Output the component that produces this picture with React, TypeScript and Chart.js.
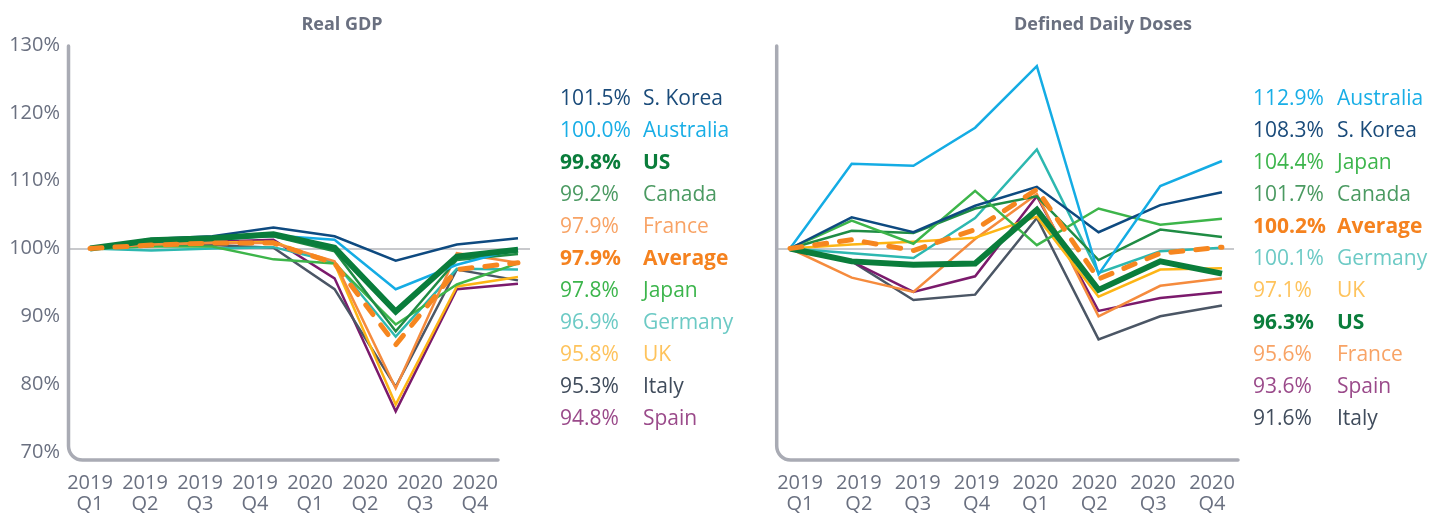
import React, { useEffect, useRef } from "react";
import { Chart, registerables } from "chart.js";

Chart.register(...registerables);

// ---------- data ----------
const quarterYears = ["2019", "2019", "2019", "2019", "2020", "2020", "2020", "2020"];
const quarterNames = ["Q1", "Q2", "Q3", "Q4", "Q1", "Q2", "Q3", "Q4"];
const yTickValues = [70, 80, 90, 100, 110, 120, 130];

const titleGDP = "Real GDP";
const titleDDD = "Defined Daily Doses";

// Real GDP, index 2019 Q1 = 100
const gdpSKorea = [100, 101.4, 101.8, 103.1, 101.8, 98.2, 100.6, 101.5];
const gdpAustralia = [100, 101.0, 101.3, 101.9, 101.3, 94.0, 97.6, 100.0];
const gdpUS = [100, 101.2, 101.5, 102.1, 100.1, 90.7, 98.8, 99.8];
const gdpCanada = [100, 101.2, 101.5, 101.8, 99.6, 87.8, 98.3, 99.2];
const gdpFrance = [100, 100.6, 100.8, 100.8, 98.1, 79.4, 99.3, 97.9];
const gdpAverage = [100, 100.5, 100.8, 100.8, 97.8, 85.8, 96.9, 97.9];
const gdpJapan = [100, 100.3, 100.3, 98.4, 97.8, 88.8, 94.7, 97.8];
const gdpGermany = [100, 99.7, 100.0, 100.2, 98.0, 87.0, 97.0, 96.9];
const gdpUK = [100, 100.6, 100.9, 101.0, 97.8, 77.0, 94.4, 95.8];
const gdpItaly = [100, 100.4, 100.5, 100.1, 94.0, 79.6, 96.9, 95.3];
const gdpSpain = [100, 100.6, 101.0, 101.3, 95.6, 76.0, 94.0, 94.8];

// Defined Daily Doses, index 2019 Q1 = 100
const ddAustralia = [100, 112.5, 112.2, 117.8, 126.9, 96.2, 109.2, 112.9];
const ddSKorea = [100, 104.6, 102.4, 106.3, 109.1, 102.4, 106.4, 108.3];
const ddJapan = [100, 104.1, 100.7, 108.5, 100.5, 105.9, 103.5, 104.4];
const ddCanada = [100, 102.6, 102.3, 105.9, 107.7, 98.3, 102.8, 101.7];
const ddAverage = [100, 101.3, 99.7, 102.8, 108.7, 95.5, 99.3, 100.2];
const ddGermany = [100, 99.3, 98.6, 104.5, 114.6, 96.4, 99.6, 100.1];
const ddUK = [100, 100.6, 101.0, 101.6, 104.7, 92.9, 96.9, 97.1];
const ddUS = [100, 98.1, 97.6, 97.8, 105.7, 93.9, 98.1, 96.3];
const ddFrance = [100, 95.7, 93.6, 101.4, 108.0, 90.0, 94.5, 95.6];
const ddSpain = [100, 98.1, 93.6, 95.9, 107.7, 90.8, 92.7, 93.6];
const ddItaly = [100, 98.1, 92.4, 93.2, 104.5, 86.6, 90.0, 91.6];

// legend order (descending final value)
const gdpSeries: [string, number[]][] = [
  ["S. Korea", gdpSKorea],
  ["Australia", gdpAustralia],
  ["US", gdpUS],
  ["Canada", gdpCanada],
  ["France", gdpFrance],
  ["Average", gdpAverage],
  ["Japan", gdpJapan],
  ["Germany", gdpGermany],
  ["UK", gdpUK],
  ["Italy", gdpItaly],
  ["Spain", gdpSpain],
];

const ddSeries: [string, number[]][] = [
  ["Australia", ddAustralia],
  ["S. Korea", ddSKorea],
  ["Japan", ddJapan],
  ["Canada", ddCanada],
  ["Average", ddAverage],
  ["Germany", ddGermany],
  ["UK", ddUK],
  ["US", ddUS],
  ["France", ddFrance],
  ["Spain", ddSpain],
  ["Italy", ddItaly],
];

// ---------- styles ----------
type Style = { line: string; text: string; width: number; dash?: number[]; bold?: boolean; order: number };
const styles: Record<string, Style> = {
  "S. Korea": { line: "#0e4a80", text: "#1a4b7a", width: 2.5, order: 2 },
  Australia: { line: "#14ace4", text: "#19aee6", width: 2.5, order: 2 },
  US: { line: "#0a7d3b", text: "#0a7d3b", width: 6, bold: true, order: 1 },
  Canada: { line: "#1f8c44", text: "#4b9a62", width: 2.5, order: 2 },
  France: { line: "#f58b3d", text: "#f8a365", width: 2.5, order: 2 },
  Average: { line: "#f6861f", text: "#f5821f", width: 5, dash: [12, 13], bold: true, order: 0 },
  Japan: { line: "#3db54a", text: "#3cb54c", width: 2.5, order: 2 },
  Germany: { line: "#2db8b0", text: "#6ccac5", width: 2.5, order: 2 },
  UK: { line: "#fdb515", text: "#fec35c", width: 2.5, order: 2 },
  Italy: { line: "#4b5665", text: "#404c5c", width: 2.5, order: 2 },
  Spain: { line: "#7b1a6c", text: "#9a4a8a", width: 2.5, order: 2 },
};

const FONT = "'Open Sans', 'Noto Sans', sans-serif";
const GRAY = "#6a7080";
const AXIS = "#a9abb4";
const GRID = "#c8c9cc";

type Geo = {
  canvasLeft: number;
  width: number;
  height: number;
  areaLeft: number;
  areaRight: number;
  areaTop: number;
  areaBottom: number;
  firstPoint: number;
  pointStep: number;
  firstLabel: number;
  labelStep: number;
  axisX: number;
  axisEnd: number;
  axisY: number;
  radius: number;
  showYTicks: boolean;
};

const axisFrame = {
  id: "axisFrame",
  beforeDatasetsDraw(chart: any, _args: any, opts: any) {
    const { ctx, chartArea } = chart;
    const r = opts.radius;
    ctx.save();
    ctx.strokeStyle = opts.color;
    ctx.lineWidth = opts.width;
    ctx.lineCap = "round";
    ctx.beginPath();
    ctx.moveTo(opts.x, chartArea.top + 1);
    ctx.lineTo(opts.x, opts.y - r);
    ctx.arcTo(opts.x, opts.y, opts.x + r, opts.y, r);
    ctx.lineTo(opts.end, opts.y);
    ctx.stroke();
    ctx.restore();
  },
};

function LineChart({ series, geo }: { series: [string, number[]][]; geo: Geo }) {
  const ref = useRef<HTMLCanvasElement>(null);
  useEffect(() => {
    if (!ref.current) return;
    const areaW = geo.areaRight - geo.areaLeft;
    const xMin = -(geo.firstPoint - geo.areaLeft) / geo.pointStep;
    const xMax = xMin + areaW / geo.pointStep;
    const lMin = -(geo.firstLabel - geo.areaLeft) / geo.labelStep;
    const lMax = lMin + areaW / geo.labelStep;
    const chart = new Chart(ref.current, {
      type: "line",
      data: {
        datasets: series.map(([name, vals]) => {
          const st = styles[name];
          return {
            label: name,
            data: vals.map((v, i) => ({ x: i, y: v })),
            borderColor: st.line,
            backgroundColor: st.line,
            borderWidth: st.width,
            borderDash: st.dash || [],
            borderCapStyle: st.dash ? "round" : "butt",
            borderJoinStyle: "miter",
            pointRadius: 0,
            tension: 0,
            fill: false,
            order: st.order,
            xAxisID: "x",
            yAxisID: "y",
          } as any;
        }),
      },
      options: {
        responsive: false,
        animation: false,
        events: [],
        layout: {
          padding: {
            top: geo.areaTop,
            right: geo.width - geo.areaRight,
            bottom: 0,
            left: 0,
          },
        },
        plugins: {
          legend: { display: false },
          tooltip: { enabled: false },
          title: { display: false },
          axisFrame: { x: geo.axisX, y: geo.axisY, end: geo.axisEnd, radius: geo.radius, width: 3.5, color: AXIS },
        } as any,
        scales: {
          x: { type: "linear", display: false, min: xMin, max: xMax },
          xl: {
            type: "linear",
            position: "bottom",
            min: lMin,
            max: lMax,
            afterBuildTicks: (s: any) => {
              s.ticks = quarterNames.map((_, i) => ({ value: i }));
            },
            afterFit: (s: any) => {
              s.height = geo.height - geo.areaBottom;
            },
            grid: { display: false, drawTicks: false },
            border: { display: false },
            ticks: {
              autoSkip: false,
              maxRotation: 0,
              minRotation: 0,
              padding: 21,
              color: GRAY,
              font: { family: FONT, size: 20, lineHeight: 1.05 },
              callback: (v: any) => [quarterYears[v], quarterNames[v]],
            },
          },
          y: {
            type: "linear",
            position: "left",
            min: yTickValues[0],
            max: yTickValues[yTickValues.length - 1],
            afterBuildTicks: (s: any) => {
              s.ticks = yTickValues.map((v) => ({ value: v }));
            },
            afterFit: (s: any) => {
              s.width = geo.areaLeft;
            },
            border: { display: false },
            grid: {
              drawTicks: false,
              lineWidth: 2,
              color: (c: any) => (c.tick && c.tick.value === 100 ? GRID : "rgba(0,0,0,0)"),
            },
            ticks: {
              display: geo.showYTicks,
              padding: 9,
              color: GRAY,
              font: { family: FONT, size: 20 },
              callback: (v: any) => v + "%",
            },
          },
        } as any,
      },
      plugins: [axisFrame as any],
    });
    return () => chart.destroy();
  }, [series, geo]);
  return (
    <canvas
      ref={ref}
      width={geo.width}
      height={geo.height}
      style={{ position: "absolute", left: geo.canvasLeft, top: 0, width: geo.width, height: geo.height }}
    />
  );
}

function Legend({ series, numX, nameX }: { series: [string, number[]][]; numX: number; nameX: number }) {
  return (
    <>
      {series.map(([name, vals], i) => {
        const st = styles[name];
        const common: React.CSSProperties = {
          position: "absolute",
          top: 81 + 32 * i,
          lineHeight: "32px",
          fontFamily: FONT,
          fontSize: 21,
          fontWeight: st.bold ? 700 : 400,
          color: st.text,
          whiteSpace: "nowrap",
        };
        return (
          <React.Fragment key={name}>
            <div style={{ ...common, left: numX }}>{vals[vals.length - 1].toFixed(1)}%</div>
            <div style={{ ...common, left: nameX }}>{name}</div>
          </React.Fragment>
        );
      })}
    </>
  );
}

function Title({ text, cx }: { text: string; cx: number }) {
  return (
    <div
      style={{
        position: "absolute",
        left: cx - 200,
        width: 400,
        top: 11,
        lineHeight: "24px",
        textAlign: "center",
        fontFamily: FONT,
        fontSize: 18,
        fontWeight: 700,
        color: GRAY,
      }}
    >
      {text}
    </div>
  );
}

const leftGeo: Geo = {
  canvasLeft: 0,
  width: 715,
  height: 514,
  areaLeft: 69,
  areaRight: 530,
  areaTop: 45,
  areaBottom: 452,
  firstPoint: 90,
  pointStep: 61.14,
  firstLabel: 90,
  labelStep: 55,
  axisX: 68.5,
  axisEnd: 498,
  axisY: 460,
  radius: 14,
  showYTicks: true,
};

const rightGeo: Geo = {
  canvasLeft: 715,
  width: 715,
  height: 514,
  areaLeft: 62,
  areaRight: 519,
  areaTop: 45,
  areaBottom: 452,
  firstPoint: 75,
  pointStep: 61.71,
  firstLabel: 85,
  labelStep: 58.86,
  axisX: 61.7,
  axisEnd: 523,
  axisY: 460,
  radius: 14,
  showYTicks: false,
};

export default function App() {
  return (
    <div style={{ position: "absolute", left: 0, top: 0, width: 1430, height: 514, background: "#fff", overflow: "hidden" }}>
      <LineChart series={gdpSeries} geo={leftGeo} />
      <LineChart series={ddSeries} geo={rightGeo} />
      <Title text={titleGDP} cx={342} />
      <Title text={titleDDD} cx={1103} />
      <Legend series={gdpSeries} numX={560} nameX={643} />
      <Legend series={ddSeries} numX={1253} nameX={1337} />
    </div>
  );
}
